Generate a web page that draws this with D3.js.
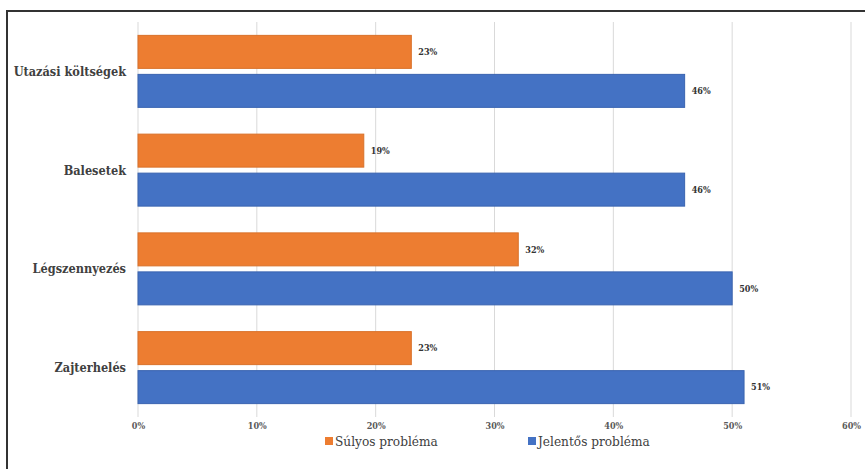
<!DOCTYPE html>
<html>
<head>
<meta charset="utf-8">
<script src="https://cdn.jsdelivr.net/npm/d3@7"></script>
<style>
  html, body { margin: 0; padding: 0; background: #fff; }
  svg { display: block; }
  svg text { font-family: "DejaVu Serif Condensed", "DejaVu Serif", serif; font-stretch: condensed; }
</style>
</head>
<body>
<svg id="chart" width="865" height="469"></svg>
<script>
// Problem categories, top to bottom
const categories = ["Utazási költségek", "Balesetek", "Légszennyezés", "Zajterhelés"];
// Share of respondents (%) per series
const seriesNames = ["Súlyos probléma", "Jelentős probléma"];
const severeValues = [23, 19, 32, 23];
const significantValues = [46, 46, 50, 51];
const tickValues = [0, 10, 20, 30, 40, 50, 60];
const colors = ["#ED7D31", "#4472C4"];
const strokes = ["#D9712A", "#3A64B0"];

const svg = d3.select("#chart");

// Outer frame (top and left edges visible)
svg.append("rect")
  .attr("x", 7).attr("y", 11)
  .attr("width", 900).attr("height", 500)
  .attr("fill", "none").attr("stroke", "#333").attr("stroke-width", 2);

const plot = { left: 138, right: 851, top: 22, bottom: 417 };

const x = d3.scaleLinear().domain([0, 60]).range([plot.left, plot.right]);
const y = d3.scaleBand().domain(categories).range([plot.top, plot.bottom]).paddingInner(0).paddingOuter(0);
const inner = d3.scaleBand().domain([0, 1]).range([0, y.bandwidth()]).paddingInner(0.154).paddingOuter(0.343);

// Vertical gridlines
svg.append("g")
  .selectAll("line")
  .data(tickValues)
  .join("line")
  .attr("x1", d => x(d)).attr("x2", d => x(d))
  .attr("y1", plot.top).attr("y2", plot.bottom)
  .attr("stroke", "#d9d9d9").attr("stroke-width", 1);

// Tick labels via axis
const axis = d3.axisBottom(x).tickValues(tickValues).tickFormat(d => d + "%").tickSize(0).tickPadding(0);
const axisG = svg.append("g").attr("transform", `translate(0, ${plot.bottom + 6})`).call(axis);
axisG.select(".domain").remove();
axisG.attr("font-family", null).attr("font-size", null);
axisG.selectAll("text")
  .style("font-size", "9px").style("font-weight", "bold")
  .attr("fill", "#595959");

const rows = categories.map((c, i) => ({ cat: c, vals: [severeValues[i], significantValues[i]] }));

const groups = svg.append("g").selectAll("g")
  .data(rows).join("g")
  .attr("transform", d => `translate(0, ${y(d.cat)})`);

groups.selectAll("rect")
  .data(d => d.vals.map((v, k) => ({ v, k })))
  .join("rect")
  .attr("x", x(0))
  .attr("y", d => inner(d.k))
  .attr("width", d => x(d.v) - x(0))
  .attr("height", inner.bandwidth())
  .attr("fill", d => colors[d.k])
  .attr("stroke", d => strokes[d.k]).attr("stroke-width", 1);

groups.selectAll("text.val")
  .data(d => d.vals.map((v, k) => ({ v, k })))
  .join("text")
  .attr("class", "val")
  .attr("x", d => x(d.v) + 7)
  .attr("y", d => inner(d.k) + inner.bandwidth() / 2)
  .attr("dy", "0.35em")
  .style("font-size", "9px").style("font-weight", "bold")
  .attr("fill", "#333")
  .text(d => d.v + "%");

// Category labels
groups.append("text")
  .attr("x", 126)
  .attr("y", y.bandwidth() / 2)
  .attr("dy", "0.35em")
  .attr("text-anchor", "end")
  .style("font-size", "12.6px").style("font-weight", "bold")
  .attr("fill", "#404040")
  .text(d => d.cat);

// Legend
const legendX = [325, 528];
const legend = svg.append("g").selectAll("g")
  .data(seriesNames).join("g")
  .attr("transform", (d, i) => `translate(${legendX[i]}, 441)`);
legend.append("rect")
  .attr("x", 0).attr("y", -4).attr("width", 8).attr("height", 8)
  .attr("fill", (d, i) => colors[i]);
legend.append("text")
  .attr("x", 10).attr("y", 0).attr("dy", "0.35em")
  .style("font-size", "13.5px")
  .attr("fill", "#404040")
  .text(d => d);
</script>
</body>
</html>
